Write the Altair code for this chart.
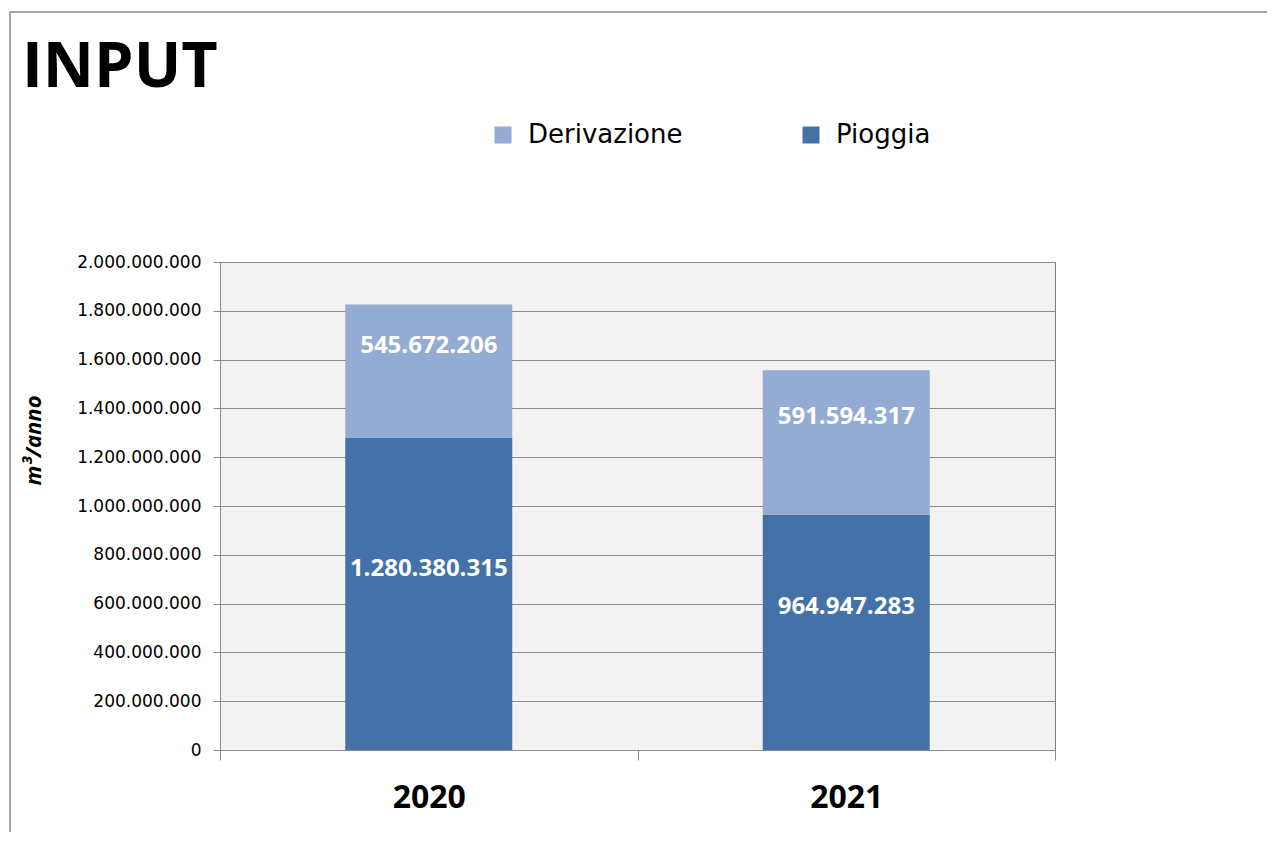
import altair as alt
import pandas as pd

chart_title = "INPUT"
years = ["2020", "2021"]
pioggia = [1280380315, 964947283]
derivazione = [545672206, 591594317]
series_order = ["Derivazione", "Pioggia"]
series_colors = ["#94abd4", "#4472a8"]
y_ticks = [0, 200000000, 400000000, 600000000, 800000000, 1000000000,
           1200000000, 1400000000, 1600000000, 1800000000, 2000000000]

rows = []
for i, yr in enumerate(years):
    rows.append({"anno": yr, "serie": "Pioggia", "valore": pioggia[i], "ordine": 0})
    rows.append({"anno": yr, "serie": "Derivazione", "valore": derivazione[i], "ordine": 1})
df = pd.DataFrame(rows)
df["etichetta"] = df["valore"].map(lambda v: f"{v:,}".replace(",", "."))

base = alt.Chart(df).transform_stack(
    stack="valore", groupby=["anno"], as_=["y0", "y1"],
    sort=[alt.SortField("ordine", order="ascending")]
).transform_calculate(mid="(datum.y0 + datum.y1) / 2")

x_enc = alt.X(
    "anno:N", title=None,
    scale=alt.Scale(paddingInner=0, paddingOuter=0),
    axis=alt.Axis(labelAngle=0, labelFont="Open Sans", labelFontWeight="bold",
                  labelFontSize=32, labelColor="black", labelPadding=22,
                  tickBand="extent", tickSize=10, tickColor="#8c8c8c",
                  domainColor="#8c8c8c", grid=False),
)

bars = base.mark_bar(size=167).encode(
    x=x_enc,
    y=alt.Y("y0:Q", title="m³/anno",
            scale=alt.Scale(domain=[0, 2000000000], nice=False),
            axis=alt.Axis(values=y_ticks,
                          labelExpr="replace(format(datum.value, ','), regexp(',', 'g'), '.')",
                          labelFont="DejaVu Sans", labelFontSize=17, labelColor="black",
                          labelPadding=12, tickSize=7, tickColor="#8c8c8c",
                          domainColor="#8c8c8c", gridColor="#8a8a8a",
                          titleFont="Open Sans", titleFontSize=22, titleFontStyle="italic",
                          titleFontWeight="bold", titleColor="black",
                          titleX=-175, titleY=178)),
    y2="y1:Q",
    color=alt.Color("serie:N",
                    scale=alt.Scale(domain=series_order, range=series_colors),
                    legend=alt.Legend(title=None, orient="none", legendX=270, legendY=-140,
                                      direction="horizontal", symbolType="square",
                                      symbolSize=289, symbolStrokeWidth=0,
                                      labelFont="DejaVu Sans", labelFontSize=26,
                                      labelColor="black", columnPadding=115,
                                      labelOffset=12)),
)

labels = base.mark_text(color="white", font="Open Sans", fontWeight="bold",
                        fontSize=24, baseline="middle", dy=-25).encode(
    x=alt.X("anno:N"),
    y=alt.Y("mid:Q"),
    text="etichetta:N",
)

deco = alt.Chart(pd.DataFrame({"titolo": [chart_title]}))

frame = deco.mark_rect(
    fill=None, stroke="#a6a6a6", strokeWidth=2, clip=False
).encode(
    x=alt.value(-210), x2=alt.value(1100), y=alt.value(-250), y2=alt.value(620)
)

title_text = deco.mark_text(
    font="Open Sans", fontSize=63, fontWeight="bold", color="black",
    align="left", baseline="alphabetic", clip=False
).encode(
    x=alt.value(-198), y=alt.value(-175), text="titolo:N"
)

chart = alt.layer(frame, bars, labels, title_text).properties(
    width=835, height=488,
    autosize=alt.AutoSizeParams(type="none"),
    padding={"left": 212, "top": 254, "right": 212, "bottom": 82},
).configure_view(fill="#f2f2f2", stroke="#7f7f7f")

chart.save("out.html", embed_options={"renderer": "svg", "actions": False})
